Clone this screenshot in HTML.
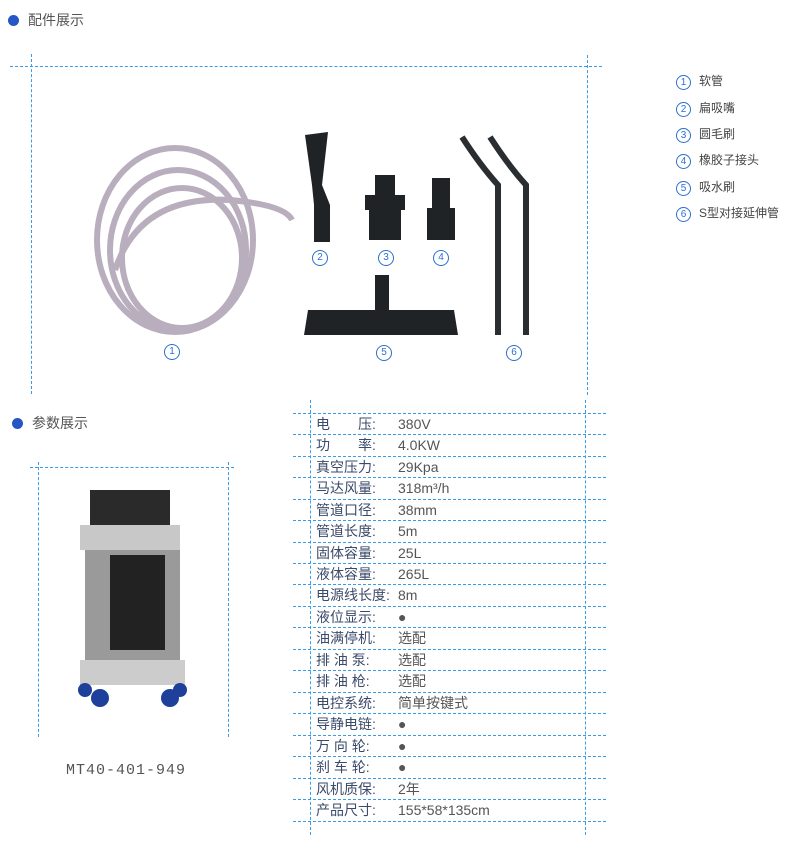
<!DOCTYPE html>
<html><head><meta charset="utf-8"><style>
body{margin:0;width:800px;height:852px;background:#fff;position:relative;font-family:"Liberation Sans","Noto Sans CJK SC",sans-serif;color:#555;overflow:hidden}
.a{position:absolute}
.h{position:absolute;border-top:1.5px dashed #3a9be8;height:0}
.v{position:absolute;border-left:1.5px dashed #3a9be8;width:0}
.dot{position:absolute;width:11px;height:11px;border-radius:50%;background:#2457c5}
.lg{position:absolute;left:676px;font-size:12px;color:#444}
.lg span{display:inline-block;width:13px;height:13px;border:1.5px solid #2a6fd0;border-radius:50%;font-size:10px;line-height:13px;text-align:center;color:#2a6fd0;margin-right:8px}
.r{position:absolute;left:316px;font-size:14px;color:#555;height:21px;line-height:21px}
.r b{font-weight:normal;display:inline-block;width:82px;color:#3a4a6a}
.num{position:absolute;width:14px;height:14px;border:1.3px solid #2a6fd0;border-radius:50%;font-size:10px;line-height:14px;text-align:center;color:#2a6fd0}
</style></head><body>
<div class="dot" style="left:8px;top:15px"></div><div class="a" style="left:28px;top:10px;font-size:14px">配件展示</div>
<div class="h" style="left:10px;top:66px;width:592px"></div>
<div class="v" style="left:31px;top:54px;height:340px"></div>
<div class="v" style="left:587px;top:55px;height:340px"></div>
<div class="lg" style="top:72px"><span>1</span>软管</div>
<div class="lg" style="top:99px"><span>2</span>扁吸嘴</div>
<div class="lg" style="top:125px"><span>3</span>圆毛刷</div>
<div class="lg" style="top:151px"><span>4</span>橡胶子接头</div>
<div class="lg" style="top:178px"><span>5</span>吸水刷</div>
<div class="lg" style="top:204px"><span>6</span>S型对接延伸管</div>
<svg class="a" style="left:0;top:0" width="800" height="852">
<g fill="none" stroke="#b9aebd" stroke-width="6">
<ellipse cx="175" cy="240" rx="78" ry="92"/>
<ellipse cx="178" cy="250" rx="68" ry="80"/>
<ellipse cx="182" cy="258" rx="60" ry="70"/>
<path d="M115 270 Q140 195 230 200 Q285 205 292 220"/>
</g>
<g fill="#1f2326">
<path d="M305 135 L328 132 L322 185 L330 205 L330 242 L314 242 L314 205 L312 185 Z"/>
<path d="M375 175 h20 v20 h10 v15 h-4 v30 h-32 v-30 h-4 v-15 h10 Z"/>
<path d="M432 178 h18 v30 h5 v32 h-28 v-32 h5 Z"/>
<path d="M375 275 h14 v35 h65 l4 25 h-154 l4 -25 h67 Z"/>
</g>
<g fill="none" stroke="#2a2e31" stroke-width="6">
<path d="M462 137 Q480 165 498 185 L498 335"/>
<path d="M490 137 Q508 165 526 185 L526 335"/>
</g>
</svg>
<div class="num" style="left:164px;top:344px">1</div>
<div class="num" style="left:312px;top:250px">2</div>
<div class="num" style="left:378px;top:250px">3</div>
<div class="num" style="left:433px;top:250px">4</div>
<div class="num" style="left:376px;top:345px">5</div>
<div class="num" style="left:506px;top:345px">6</div>

<div class="dot" style="left:12px;top:418px"></div><div class="a" style="left:32px;top:413px;font-size:14px">参数展示</div>
<div class="h" style="left:30px;top:467px;width:204px"></div>
<div class="v" style="left:38px;top:462px;height:275px"></div>
<div class="v" style="left:228px;top:462px;height:275px"></div>
<svg class="a" style="left:60px;top:480px" width="140" height="240">
<rect x="30" y="10" width="80" height="40" fill="#2a2a2a"/>
<rect x="20" y="45" width="100" height="25" fill="#c8c8c8"/>
<rect x="25" y="70" width="95" height="110" fill="#9a9a9a"/>
<rect x="50" y="75" width="55" height="95" fill="#222"/>
<rect x="20" y="180" width="105" height="25" fill="#ccc"/>
<circle cx="40" cy="218" r="9" fill="#1e3f9a"/><circle cx="110" cy="218" r="9" fill="#1e3f9a"/>
<circle cx="25" cy="210" r="7" fill="#1e3f9a"/><circle cx="120" cy="210" r="7" fill="#1e3f9a"/>
</svg>
<div class="a" style="left:66px;top:762px;font-size:15px;letter-spacing:1px;font-family:'Liberation Mono',monospace">MT40-401-949</div>

<div class="v" style="left:310px;top:400px;height:435px"></div>
<div class="v" style="left:585px;top:400px;height:435px"></div>
<div class="h" style="left:293px;top:413px;width:313px"></div>
<div class="h" style="left:293px;top:434px;width:313px"></div>
<div class="h" style="left:293px;top:456px;width:313px"></div>
<div class="h" style="left:293px;top:477px;width:313px"></div>
<div class="h" style="left:293px;top:499px;width:313px"></div>
<div class="h" style="left:293px;top:520px;width:313px"></div>
<div class="h" style="left:293px;top:542px;width:313px"></div>
<div class="h" style="left:293px;top:563px;width:313px"></div>
<div class="h" style="left:293px;top:584px;width:313px"></div>
<div class="h" style="left:293px;top:606px;width:313px"></div>
<div class="h" style="left:293px;top:627px;width:313px"></div>
<div class="h" style="left:293px;top:649px;width:313px"></div>
<div class="h" style="left:293px;top:670px;width:313px"></div>
<div class="h" style="left:293px;top:692px;width:313px"></div>
<div class="h" style="left:293px;top:713px;width:313px"></div>
<div class="h" style="left:293px;top:735px;width:313px"></div>
<div class="h" style="left:293px;top:756px;width:313px"></div>
<div class="h" style="left:293px;top:778px;width:313px"></div>
<div class="h" style="left:293px;top:799px;width:313px"></div>
<div class="h" style="left:293px;top:821px;width:313px"></div>
<div class="r" style="top:414px"><b>电&emsp;&emsp;压:</b>380V</div>
<div class="r" style="top:435px"><b>功&emsp;&emsp;率:</b>4.0KW</div>
<div class="r" style="top:457px"><b>真空压力:</b>29Kpa</div>
<div class="r" style="top:478px"><b>马达风量:</b>318m³/h</div>
<div class="r" style="top:500px"><b>管道口径:</b>38mm</div>
<div class="r" style="top:521px"><b>管道长度:</b>5m</div>
<div class="r" style="top:543px"><b>固体容量:</b>25L</div>
<div class="r" style="top:564px"><b>液体容量:</b>265L</div>
<div class="r" style="top:585px"><b>电源线长度:</b>8m</div>
<div class="r" style="top:607px"><b>液位显示:</b>●</div>
<div class="r" style="top:628px"><b>油满停机:</b>选配</div>
<div class="r" style="top:650px"><b>排 油 泵:</b>选配</div>
<div class="r" style="top:671px"><b>排 油 枪:</b>选配</div>
<div class="r" style="top:693px"><b>电控系统:</b>简单按键式</div>
<div class="r" style="top:714px"><b>导静电链:</b>●</div>
<div class="r" style="top:736px"><b>万 向 轮:</b>●</div>
<div class="r" style="top:757px"><b>刹 车 轮:</b>●</div>
<div class="r" style="top:779px"><b>风机质保:</b>2年</div>
<div class="r" style="top:800px"><b>产品尺寸:</b>155*58*135cm</div>
</body></html>
